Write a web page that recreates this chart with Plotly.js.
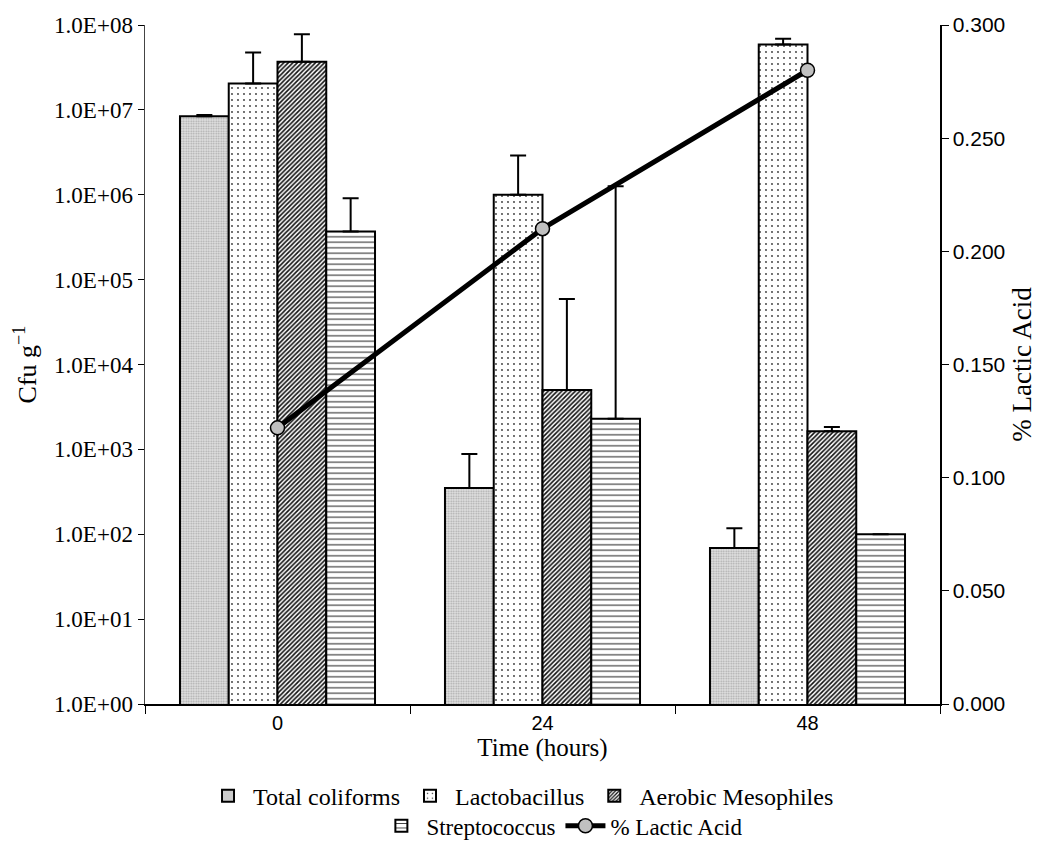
<!DOCTYPE html>
<html>
<head>
<meta charset="utf-8">
<script src="https://cdn.plot.ly/plotly-3.0.1.min.js"></script>
<style>html,body{margin:0;padding:0;background:#fff;}#chart{width:1050px;height:847px;}</style>
</head>
<body>
<div id="chart"></div>
<script>
// ---- data ----
const timeCategories = ["0", "24", "48"];

const totalColiforms      = [8.4e6, 350, 69];
const totalColiformsErr   = [0.3e6, 530, 49];

const lactobacillus       = [2.05e7, 1.0e6, 5.9e7];
const lactobacillusErr    = [2.7e7, 1.9e6, 1.0e7];

const aerobicMesophiles   = [3.7e7, 5.0e3, 1640];
const aerobicMesophilesErr= [4.1e7, 5.4e4, 190];

const streptococcus       = [3.7e5, 2.3e3, 100];
const streptococcusErr    = [5.4e5, 1.26e6, 0];

const lacticAcid          = [0.122, 0.210, 0.280];

const leftTickVals  = [1, 10, 100, 1e3, 1e4, 1e5, 1e6, 1e7, 1e8];
const leftTickText  = ["1.0E+00","1.0E+01","1.0E+02","1.0E+03","1.0E+04","1.0E+05","1.0E+06","1.0E+07","1.0E+08"];

// ---- styling ----
const serif = "Liberation Serif, Times New Roman, serif";
const sans  = "Liberation Sans, Arial, sans-serif";

function errUp(arr) {
  return {type: "data", symmetric: false, array: arr, arrayminus: arr.map(() => 0),
          color: "#000", thickness: 2, width: 8};
}
function barTrace(name, y, err, pattern, bg, legend) {
  return {
    type: "bar", name: name, x: timeCategories, y: y,
    error_y: errUp(err),
    marker: {color: bg, line: {color: "#000", width: 2}, pattern: pattern},
    legend: legend
  };
}

const traces = [
  barTrace("Total coliforms", totalColiforms, totalColiformsErr,
    {shape: ".", fgcolor: "#a8a8a8", bgcolor: "#e2e2e2", size: 2.5, solidity: 0.4}, "#e2e2e2", "legend"),
  barTrace("Lactobacillus", lactobacillus, lactobacillusErr,
    {shape: ".", fgcolor: "#333", bgcolor: "#fff", size: 6, solidity: 0.07}, "#fff", "legend"),
  barTrace("Aerobic Mesophiles", aerobicMesophiles, aerobicMesophilesErr,
    {shape: "/", fgcolor: "#111", bgcolor: "#fff", size: 3.2, solidity: 0.5}, "#fff", "legend"),
  barTrace("Streptococcus", streptococcus, streptococcusErr,
    {shape: "-", fgcolor: "#333", bgcolor: "#fff", size: 5.5, solidity: 0.2}, "#fff", "legend2"),
  {
    type: "scatter", mode: "lines+markers", name: "% Lactic Acid",
    x: timeCategories, y: lacticAcid, yaxis: "y2", legend: "legend2",
    line: {color: "#000", width: 5},
    marker: {symbol: "circle", size: 14, color: "#c0c0c0", line: {color: "#000", width: 1.5}}
  }
];

const layout = {
  width: 1050, height: 847,
  margin: {l: 145, r: 110, t: 25, b: 143},
  paper_bgcolor: "#fff", plot_bgcolor: "#fff",
  barmode: "group", bargap: 0.264, bargroupgap: 0,
  xaxis: {
    type: "category", range: [-0.5, 2.5],
    tickson: "boundaries", ticks: "outside", ticklen: 8, tickcolor: "#000",
    showline: true, linecolor: "#000", linewidth: 1.5, showgrid: false, zeroline: false,
    tickfont: {family: sans, size: 20, color: "#000"},
    title: {text: "Time (hours)", font: {family: serif, size: 25, color: "#000"}, standoff: 0}
  },
  yaxis: {
    type: "log", range: [0, 8],
    tickmode: "array", tickvals: leftTickVals, ticktext: leftTickText,
    ticks: "outside", ticklen: 6, tickcolor: "#000",
    showline: true, linecolor: "#444", linewidth: 1.5, showgrid: false, zeroline: false,
    tickfont: {family: serif, size: 23, color: "#000"},
    title: {text: "Cfu g<sup>−1</sup>", font: {family: serif, size: 26, color: "#000"}, standoff: 10}
  },
  yaxis2: {
    overlaying: "y", side: "right", range: [0, 0.3], dtick: 0.05, tickformat: ".3f",
    ticks: "outside", ticklen: 7, tickcolor: "#000",
    showline: true, linecolor: "#000", linewidth: 1.5, showgrid: false, zeroline: false,
    tickfont: {family: sans, size: 21, color: "#000"},
    title: {text: "% Lactic Acid", font: {family: serif, size: 27, color: "#000"}, standoff: 8}
  },
  legend: {
    orientation: "h", x: 0.473, xanchor: "center", xref: "paper",
    y: 0.060, yanchor: "middle", yref: "container",
    font: {family: serif, size: 24, color: "#000"}, itemwidth: 40, tracegroupgap: 0,
    bgcolor: "rgba(0,0,0,0)"
  },
  legend2: {
    orientation: "h", x: 0.525, xanchor: "center", xref: "paper",
    y: 0.025, yanchor: "middle", yref: "container",
    font: {family: serif, size: 23, color: "#000"}, itemwidth: 40,
    bgcolor: "rgba(0,0,0,0)"
  },
  showlegend: true
};

Plotly.newPlot("chart", traces, layout, {displayModeBar: false, staticPlot: true});
</script>
</body>
</html>
